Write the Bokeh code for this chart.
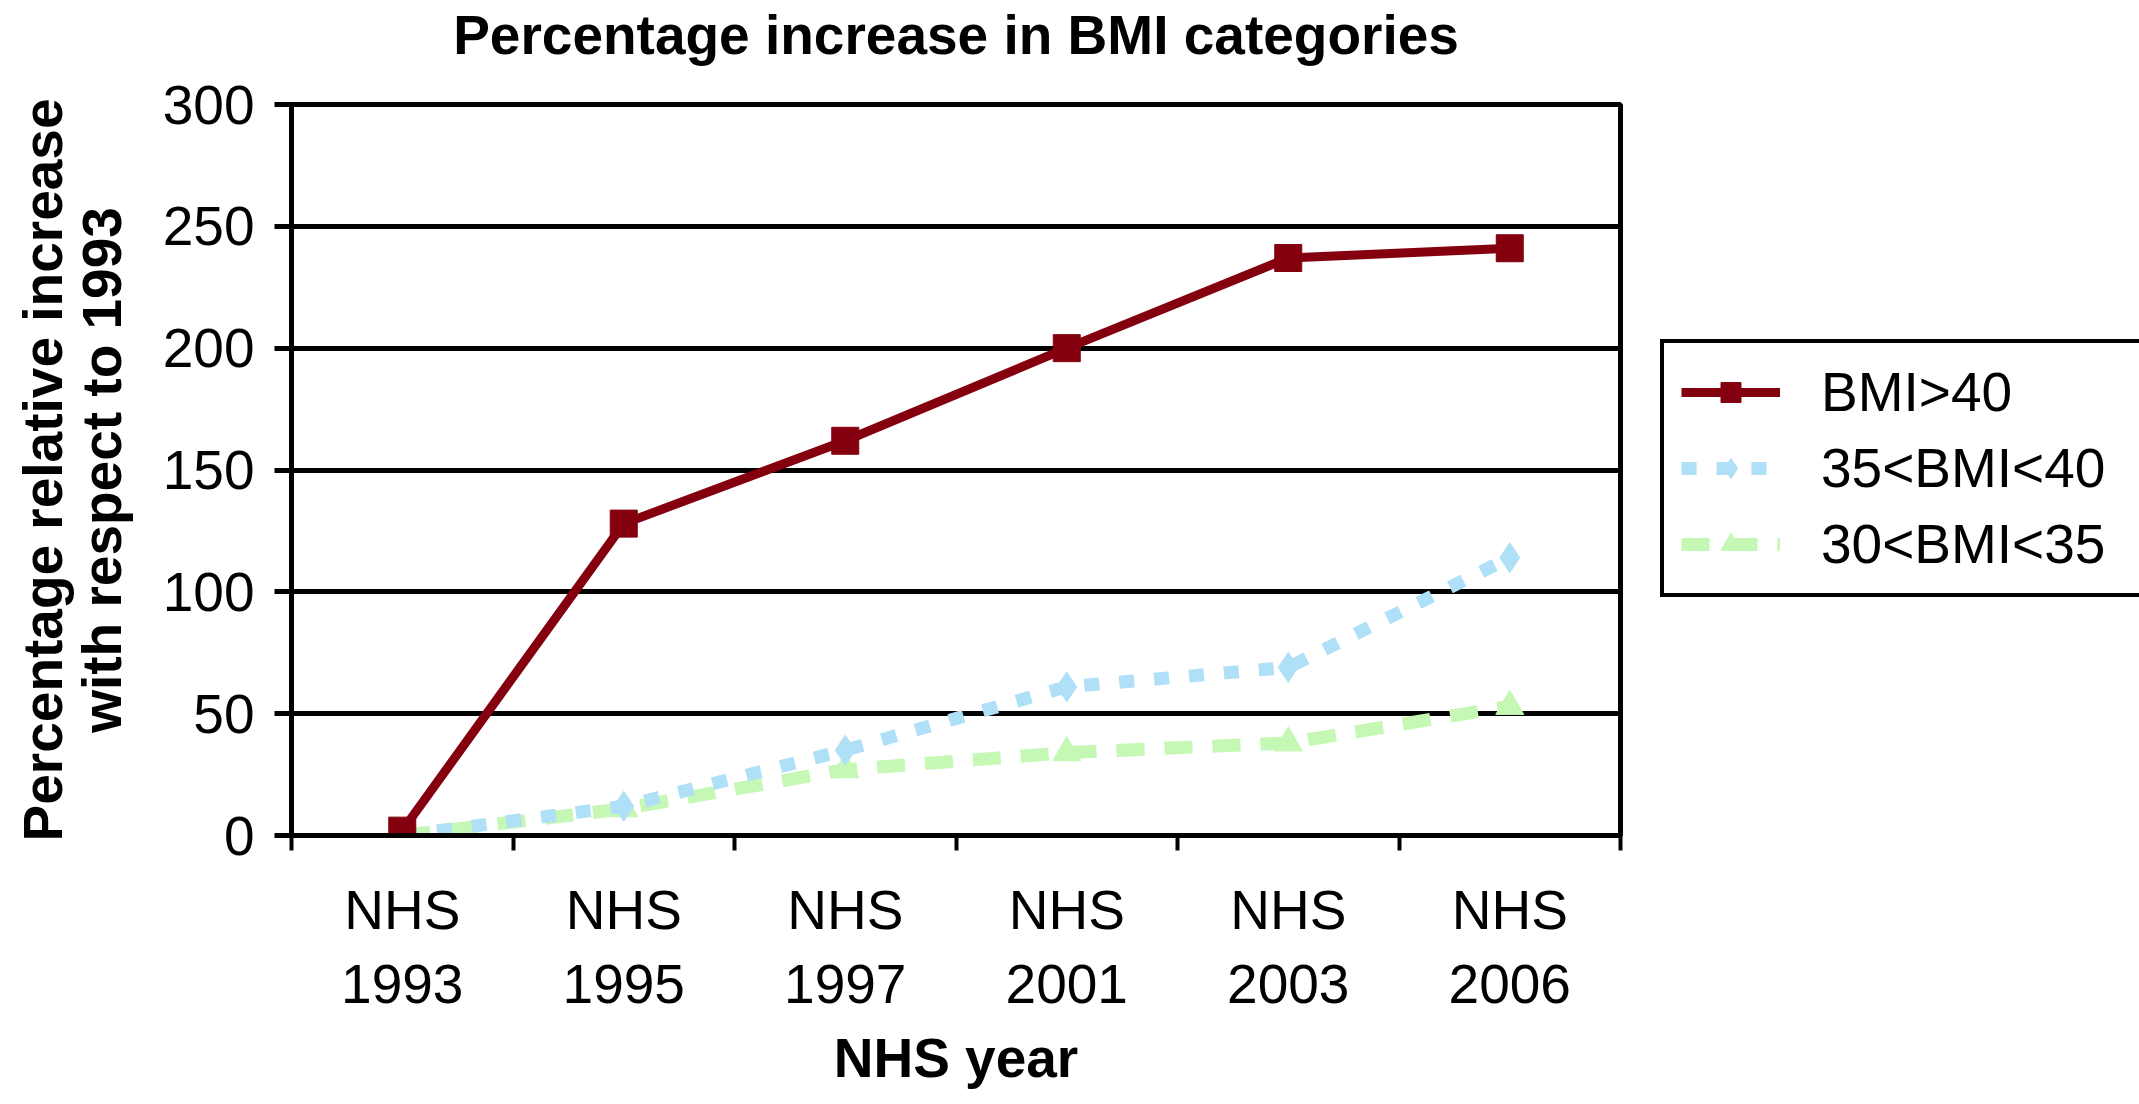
from bokeh.plotting import figure
from bokeh.models import ColumnDataSource, FixedTicker, Legend, LegendItem, LinearAxis, Range1d
from bokeh.embed import file_html
from bokeh.resources import INLINE

# data
title_text = "Percentage increase in BMI categories"
years = ["1993", "1995", "1997", "2001", "2003", "2006"]
tick_labels = ["NHS\n" + y for y in years]
bmi_over_40 = [2, 128, 162, 200, 237, 241]
bmi_35_40 = [0, 12, 35, 61, 69, 114]
bmi_30_35 = [0, 11, 27, 34, 38, 53]
y_ticks = [0, 50, 100, 150, 200, 250, 300]

FONT = "Liberation Sans"
FS = "55px"
RED = "#85000f"
BLUE = "#b0e0f8"
GREEN = "#c5f7b5"

x_pos = list(range(len(years)))
source = ColumnDataSource(data=dict(
    x=x_pos,
    over40=bmi_over_40,
    b3540=bmi_35_40,
    b3035=bmi_30_35,
))

p = figure(
    frame_width=1329, frame_height=731,
    min_border_left=291, min_border_right=503,
    min_border_top=100, min_border_bottom=260,
    x_range=Range1d(-0.5, len(years) - 0.5),
    y_range=Range1d(y_ticks[0], y_ticks[-1]),
    output_backend="svg", toolbar_location=None,
    title=None,
    x_axis_label="NHS year",
    y_axis_label="Percentage relative increase\nwith respect to 1993",
)
xa = p.below[0]
ya = p.left[0]

p.background_fill_color = "white"
p.border_fill_color = "white"
p.outline_line_color = "black"
p.outline_line_width = 5

# chart title drawn as the label of a bare axis on top, so its gap to the frame is exact
top = LinearAxis(
    ticker=FixedTicker(ticks=[]),
    axis_label=title_text,
    axis_label_standoff=39,
    axis_label_text_font=FONT,
    axis_label_text_font_size=FS,
    axis_label_text_font_style="bold",
    axis_label_text_color="black",
    axis_line_color=None,
    major_tick_line_color=None,
    minor_tick_line_color=None,
    major_tick_out=0,
    minor_tick_out=0,
    major_label_standoff=0,
)
p.add_layout(top, "above")

# green dashed, blue dotted, red solid on top
g_line = p.line("x", "b3035", source=source, color=GREEN, line_width=13, line_dash="28 20")
g_pts = p.scatter("x", "b3035", source=source, marker="triangle", size=28, color=GREEN)
b_line = p.line("x", "b3540", source=source, color=BLUE, line_width=13, line_dash="15 20")
b_pts = p.scatter("x", "b3540", source=source, marker="diamond", size=30, color=BLUE)
r_line = p.line("x", "over40", source=source, color=RED, line_width=9)
r_pts = p.scatter("x", "over40", source=source, marker="square", size=27, color=RED)

# axes
xa.ticker = FixedTicker(ticks=x_pos, minor_ticks=[i - 0.5 for i in range(len(years) + 1)])
xa.major_label_overrides = {i: lab for i, lab in zip(x_pos, tick_labels)}
xa.major_tick_out = 0
xa.major_tick_in = 0
xa.minor_tick_in = 0
xa.minor_tick_out = 15
xa.minor_tick_line_width = 4
xa.minor_tick_line_color = "black"
xa.major_label_standoff = 28
xa.axis_label_standoff = 9

ya.ticker = FixedTicker(ticks=y_ticks)
ya.major_tick_out = 17
ya.major_tick_in = 0
ya.minor_tick_out = 0
ya.minor_tick_in = 0
ya.major_tick_line_width = 5
ya.major_label_standoff = 20
ya.axis_label_standoff = 27
ya.axis_label_text_line_height = 0.95

for ax in (xa, ya):
    ax.axis_line_color = "black"
    ax.axis_line_width = 5
    ax.major_tick_line_color = "black"
    ax.major_label_text_font = FONT
    ax.major_label_text_font_size = FS
    ax.major_label_text_color = "black"
    ax.axis_label_text_font = FONT
    ax.axis_label_text_font_size = FS
    ax.axis_label_text_font_style = "bold"
    ax.axis_label_text_color = "black"

p.xgrid.grid_line_color = None
p.ygrid.ticker = FixedTicker(ticks=y_ticks)
p.ygrid.grid_line_color = "black"
p.ygrid.grid_line_width = 5

legend = Legend(
    items=[
        LegendItem(label="BMI>40", renderers=[r_line, r_pts]),
        LegendItem(label="35<BMI<40", renderers=[b_line, b_pts]),
        LegendItem(label="30<BMI<35", renderers=[g_line, g_pts]),
    ],
    location=(40, 238),
    margin=0,
    padding=17,
    spacing=12,
    glyph_width=99,
    glyph_height=50,
    label_standoff=41,
    label_width=303,
    label_text_font=FONT,
    label_text_font_size=FS,
    label_text_color="black",
    border_line_color="black",
    border_line_alpha=1.0,
    border_line_width=4,
    background_fill_color="white",
    background_fill_alpha=1.0,
)
p.add_layout(legend, "right")

open("out.html", "w").write(file_html(p, INLINE))
